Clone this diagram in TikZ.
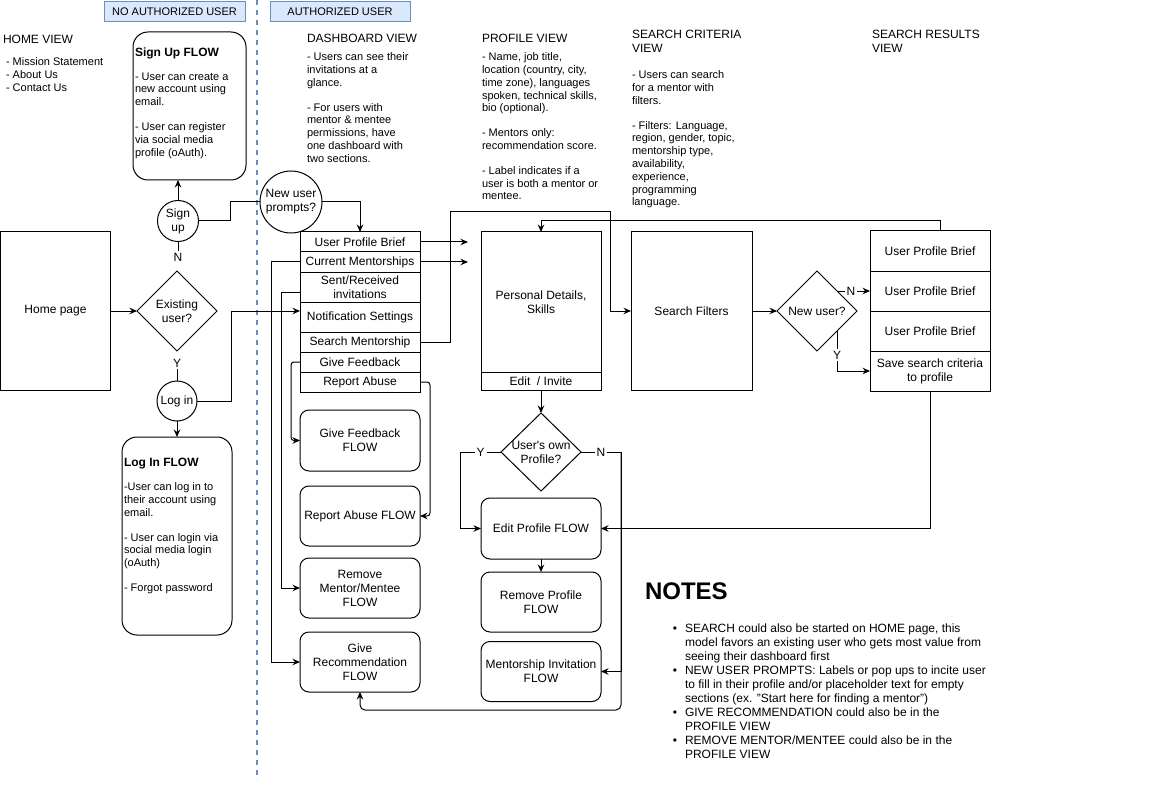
\documentclass[tikz,border=0pt]{standalone}
\usepackage{fontspec}
\setmainfont{Liberation Sans}
\usetikzlibrary{shapes.geometric,arrows.meta,calc}
\definecolor{hdrfill}{HTML}{DAE8FC}
\definecolor{hdrline}{HTML}{6C8EBF}
\newcommand{\fsA}{\fontsize{11}{12.8}\selectfont}
\newcommand{\fsB}{\fontsize{12}{14}\selectfont}
\newcommand{\fsC}{\fontsize{24}{28}\selectfont}
\newcommand{\bul}{\llap{\textbullet\hspace{8pt}}}

\begin{document}
\begin{tikzpicture}[x=1pt,y=-1pt,
  every node/.style={inner sep=0pt, outer sep=0pt},
  >={Stealth[length=7.5pt,width=6.5pt,inset=2.5pt]},
  conn/.style={line width=1pt},
  box/.style={draw, line width=1pt, fill=white, align=center, font=\fsB},
  flowbox/.style={box, rounded corners=9pt, minimum width=120pt, minimum height=60pt},
  rowbox/.style={box, minimum width=120pt},
  ring/.style={draw, circle, line width=1pt, fill=white, align=center, font=\fsB},
  decision/.style={draw, diamond, line width=1pt, fill=white, minimum width=80pt, minimum height=80pt},
  note/.style={anchor=north west, align=left, font=\fsA},
  head/.style={anchor=north west, align=left, font=\fsB},
  tag/.style={draw=hdrline, fill=hdrfill, line width=1pt, font=\fsA, minimum height=20pt},
  lbl/.style={fill=white, font=\fsB, inner sep=2pt},
]
\useasboundingbox (0,0) rectangle (1169,802);

% ---- section tags and divider
\node[tag, minimum width=141pt] (noauth) at (174.5,12) {NO AUTHORIZED USER};
\node[tag, minimum width=140pt] (auth) at (340,12) {AUTHORIZED USER};
\draw[hdrline, line width=1.5pt, dash pattern=on 5pt off 5pt] (257,0) -- (257,780);

% ---- column headings and descriptions
\node[head] (homeview) at (3,35) {HOME VIEW};
\node[note] (homelist) at (6,57.5) {- Mission Statement\\- About Us\\- Contact Us};

\node[head] (dashview) at (307,34) {DASHBOARD VIEW};
\node[note] (dashtext) at (307,52.8) {- Users can see their\\invitations at a\\glance.\\[12pt]- For users with\\mentor \& mentee\\permissions, have\\one dashboard with\\two sections.};

\node[head] (profview) at (482,34) {PROFILE VIEW};
\node[note] (proftext) at (482,52.8) {- Name, job title,\\location (country, city,\\time zone), languages\\spoken, technical skills,\\bio (optional).\\[12pt]- Mentors only:\\recommendation score.\\[12pt]- Label indicates if a\\user is both a mentor or\\mentee.};

\node[head] (critview) at (632,30) {SEARCH CRITERIA\\VIEW};
\node[note] (crittext) at (632,70.8) {- Users can search\\for a mentor with\\filters.\\[12pt]- Filters: Language,\\region, gender, topic,\\mentorship type,\\availability,\\experience,\\programming\\language.};

\node[head] (resview) at (872,30) {SEARCH RESULTS\\VIEW};

% ---- home / sign up / log in
\node[box, minimum width=110pt, minimum height=159pt] (home) at (55.5,311) {Home page};

\node[box, rounded corners=15pt, minimum width=113pt, minimum height=148pt] (signup) at (189.5,106) {};
\node[head, font=\bfseries\fsB] (signuph) at (135,47.7) {Sign Up FLOW};
\node[note] (signupt) at (135,72.5) {- User can create a\\new account using\\email.\\[12pt]- User can register\\via social media\\profile (oAuth).};

\node[ring, minimum size=41pt] (signupc) at (178,221) {Sign\\up};
\node[decision, label={[font=\fsB, align=center]center:Existing\\user?}] (exist) at (177,311) {};
\node[ring, minimum size=40pt] (loginc) at (177,401) {Log in};
\node[font=\fsB, inner sep=2pt] (nlab) at (178,257) {N};
\node[font=\fsB, inner sep=2pt] (ylab) at (177,363) {Y};

\node[box, rounded corners=15pt, minimum width=110pt, minimum height=198pt] (login) at (177,536) {};
\node[head, font=\bfseries\fsB] (loginh) at (124,457.7) {Log In FLOW};
\node[note] (logint) at (124,482.8) {-User can log in to\\their account using\\email.\\[12pt]- User can login via\\social media login\\(oAuth)\\[12pt]- Forgot password};

% ---- dashboard
\node[ring, minimum size=62pt] (nup) at (291,202) {New user\\prompts?};
\node[rowbox, minimum height=20pt] (upb) at (360,242) {User Profile Brief};
\node[rowbox, minimum height=20pt] (cm) at (360,262) {Current Mentorships};
\node[rowbox, minimum height=30pt] (sent) at (360,287) {Sent/Received\\invitations};
\node[rowbox, minimum height=30pt] (notif) at (360,317) {Notification Settings};
\node[rowbox, minimum height=20pt] (sm) at (360,342) {Search Mentorship};
\node[rowbox, minimum height=20pt] (gf) at (360,362) {Give Feedback};
\node[rowbox, minimum height=20pt] (ra) at (360,382) {Report Abuse};

\node[flowbox, minimum height=61pt] (gff) at (360,440.5) {Give Feedback\\FLOW};
\node[flowbox] (raf) at (360,516) {Report Abuse FLOW};
\node[flowbox] (rmm) at (360,588) {Remove\\Mentor/Mentee\\FLOW};
\node[flowbox] (grec) at (360,662) {Give\\Recommendation\\FLOW};

% ---- profile
\node[rowbox, minimum height=140pt] (pd) at (541,302) {Personal Details,\\Skills};
\node[rowbox, minimum height=18pt] (ei) at (541,381) {Edit\ \ / Invite};
\node[decision, minimum height=78pt, label={[font=\fsB, align=center]center:User\textquotesingle s own\\Profile?}] (own) at (541,452) {};
\node[flowbox, minimum height=61pt] (edit) at (541,528.5) {Edit Profile FLOW};
\node[flowbox] (rp) at (541,602) {Remove Profile\\FLOW};
\node[flowbox] (mi) at (541,671.5) {Mentorship Invitation\\FLOW};

% ---- search
\node[box, minimum width=121pt, minimum height=158pt] (sf) at (691.5,311) {Search Filters};
\node[decision, label={[font=\fsB]center:New user?}] (newq) at (817,311) {};
\node[rowbox, minimum height=40pt] (rb1) at (930,251) {User Profile Brief};
\node[rowbox, minimum height=40pt] (rb2) at (930,291) {User Profile Brief};
\node[rowbox, minimum height=40pt] (rb3) at (930,331) {User Profile Brief};
\node[rowbox, minimum height=40pt] (save) at (930,371) {Save search criteria\\to profile};

% ---- notes
\node[anchor=north west, font=\bfseries\fsC] (notesh) at (645,582.4) {NOTES};
\node[anchor=north west, align=left, font=\fsB] (notes) at (685,623.7) {%
\bul SEARCH could also be started on HOME page, this\\
model favors an existing user who gets most value from\\
seeing their dashboard first\\
\bul NEW USER PROMPTS: Labels or pop ups to incite user\\
to fill in their profile and/or placeholder text for empty\\
sections (ex. "Start here for finding a mentor")\\
\bul GIVE RECOMMENDATION could also be in the\\
PROFILE VIEW\\
\bul REMOVE MENTOR/MENTEE could also be in the\\
PROFILE VIEW};

% ---- connectors: home side
\draw[conn,->] (home.east) -- (exist.west);
\draw[conn] (nlab.north) -- (signupc.south);
\draw[conn,->] (signupc.north) -- (signupc.north |- signup.south);
\draw[conn] (ylab.south) -- (loginc.north);
\draw[conn,->] (loginc.south) -- (loginc.south |- login.north);
\draw[conn] (signupc.east) -- ++(32,0) |- (nup.west);
\draw[conn,->] (loginc.east) -- ++(34,0) |- ($(notif.west)+(0,-6)$);

% ---- connectors: dashboard
\draw[conn,->] (nup.east) -| (upb.north);
\draw[conn,->] (upb.east) -- ++(48,0);
\draw[conn,->] (cm.east) -- ++(48,0);
\draw[conn,->] (cm.west) -- ++(-29,0) |- (grec.west);
\draw[conn,->] ($(sent.west)+(0,5)$) -- ++(-19,0) |- (rmm.west);
\draw[conn,->,rounded corners=3pt] (gf.west) -- ++(-9,0) |- (gff.west);
\draw[conn,->,rounded corners=3pt] (ra.east) -- ++(10,0) |- (raf.east);
\draw[conn,->] (sm.east) -- ++(30,0) |- ($(pd.north east)+(9,-20)$) |- (sf.west);

% ---- connectors: profile and search
\draw[conn,->] (ei.south) -- (own.north);
\draw[conn,->] (own.west) -- node[lbl]{Y} ++(-41,0) |- (edit.west);
\draw[conn,->] (own.east) -- node[lbl]{N} ++(40,0) |- (mi.east);
\draw[conn,->,rounded corners=5pt] ($(own.east)+(40,0)$) -- ++(0,258) -| (grec.south);
\draw[conn,->] (edit.south) -- (rp.north);
\draw[conn,->] (sf.east) -- (newq.west);
\draw[conn,->] (newq.north east) -- node[lbl, pos=0.42]{N} (rb2.west);
\draw[conn,->] (newq.south east) |- node[lbl, pos=0.3]{Y} (save.west);
\draw[conn,->] ($(rb1.north)+(10,0)$) -- ++(0,-10) -| (pd.north);
\draw[conn,->] (save.south) |- (edit.east);
\end{tikzpicture}
\end{document}
